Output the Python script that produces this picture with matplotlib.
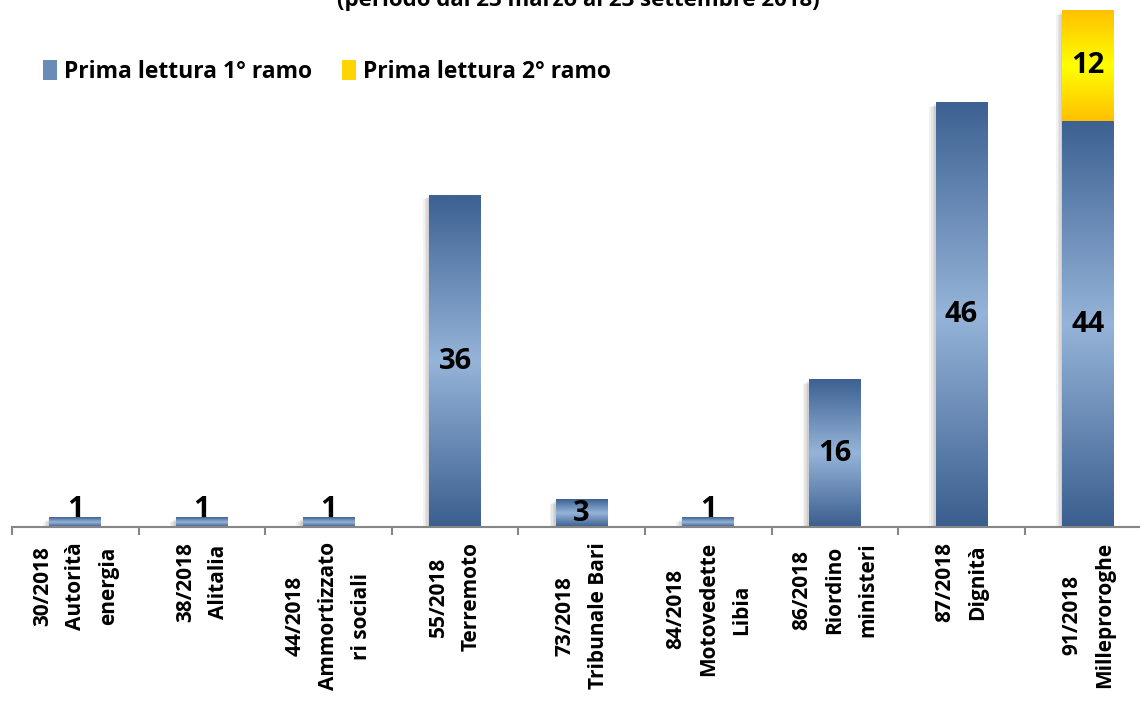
import numpy as np
import matplotlib
matplotlib.use("Agg")
import matplotlib.pyplot as plt
from matplotlib.colors import LinearSegmentedColormap
from matplotlib.patches import Patch, Rectangle

plt.rcParams['font.family'] = ['Open Sans', 'DejaVu Sans']
plt.rcParams['font.weight'] = 'bold'

# dati
categorie = ["30/2018\nAutorità\nenergia", "38/2018\nAlitalia",
             "44/2018\nAmmortizzato\nri sociali", "55/2018\nTerremoto",
             "73/2018\nTribunale Bari", "84/2018\nMotovedette\nLibia",
             "86/2018\nRiordino\nministeri", "87/2018\nDignità",
             "91/2018\nMilleproroghe"]
ramo1 = [1, 1, 1, 36, 3, 1, 16, 46, 44]
ramo2 = [0, 0, 0, 0, 0, 0, 0, 0, 12]
serie = ["Prima lettura 1° ramo", "Prima lettura 2° ramo"]
titolo = "(periodo dal 23 marzo al 23 settembre 2018)"

blu = LinearSegmentedColormap.from_list("blu", ["#3A5E8E", "#96B4D9", "#3C6192"])
giallo = LinearSegmentedColormap.from_list("giallo", ["#FFC000", "#FFFF00", "#FFC000"])
grad = np.linspace(0, 1, 256).reshape(-1, 1)

fig = plt.figure(figsize=(11.4, 7.01), dpi=100)
ax = fig.add_axes([12 / 1140, 174 / 701, 9 * 126.6 / 1140, 527 / 701])
ax.set_xlim(-0.5, 8.5)
ax.set_ylim(0, 57.15)

larg = 0.41


def barra(x, y0, h, cmap):
    x0, x1 = x - larg / 2, x + larg / 2
    # ombra
    for k in range(4):
        ax.add_patch(Rectangle((x0 - 0.012 * (k + 1), y0 - 0.12 * (k + 1)),
                               larg, h, color='black', alpha=0.05,
                               lw=0, zorder=1))
    ax.imshow(grad, cmap=cmap, extent=[x0, x1, y0, y0 + h],
              aspect='auto', origin='lower', zorder=2, interpolation='bilinear')


for i in range(len(categorie)):
    barra(i, 0, ramo1[i], blu)
    if ramo2[i] > 0:
        barra(i, ramo1[i], ramo2[i], giallo)

    if ramo1[i] < 2:
        ax.text(i, ramo1[i] + 0.1, str(ramo1[i]), ha='center', va='baseline',
                fontsize=21, fontweight='bold', zorder=5)
    else:
        ax.text(i, ramo1[i] / 2, str(ramo1[i]), ha='center', va='center',
                fontsize=21, fontweight='bold', zorder=5)
    if ramo2[i] > 0:
        ax.text(i, ramo1[i] + ramo2[i] / 2, str(ramo2[i]), ha='center',
                va='center', fontsize=21, fontweight='bold', zorder=5)

ax.set_xticks(range(len(categorie)))
ax.set_xticklabels(categorie, rotation=90, fontsize=15, fontweight='bold',
                   multialignment='center', linespacing=1.75)
ax.set_xticks(np.arange(-0.5, 9.0, 1), minor=True)
ax.tick_params(axis='x', which='major', length=0, pad=11)
ax.tick_params(axis='x', which='minor', length=6, width=1.5, color='#868686',
               direction='out')
ax.set_yticks([])
for s in ['left', 'right', 'top']:
    ax.spines[s].set_visible(False)
ax.spines['bottom'].set_color('#868686')
ax.spines['bottom'].set_linewidth(1.5)
ax.spines['bottom'].set_zorder(3)

handles = [Patch(facecolor='#6A8BB8', edgecolor='none'),
           Patch(facecolor='#FFD400', edgecolor='none')]
fig.legend(handles, serie, loc='center left', bbox_to_anchor=(0.02, 1 - 72 / 701),
           ncol=2, frameon=False, handlelength=0.6, handleheight=1.0,
           handletextpad=0.3, columnspacing=1.3,
           prop={'size': 16.5, 'weight': 'bold'})

fig.text(0.507, 1 - 6 / 701, titolo, ha='center', va='baseline',
         fontsize=16, fontweight='bold')

fig.savefig("out.png", dpi=100)
